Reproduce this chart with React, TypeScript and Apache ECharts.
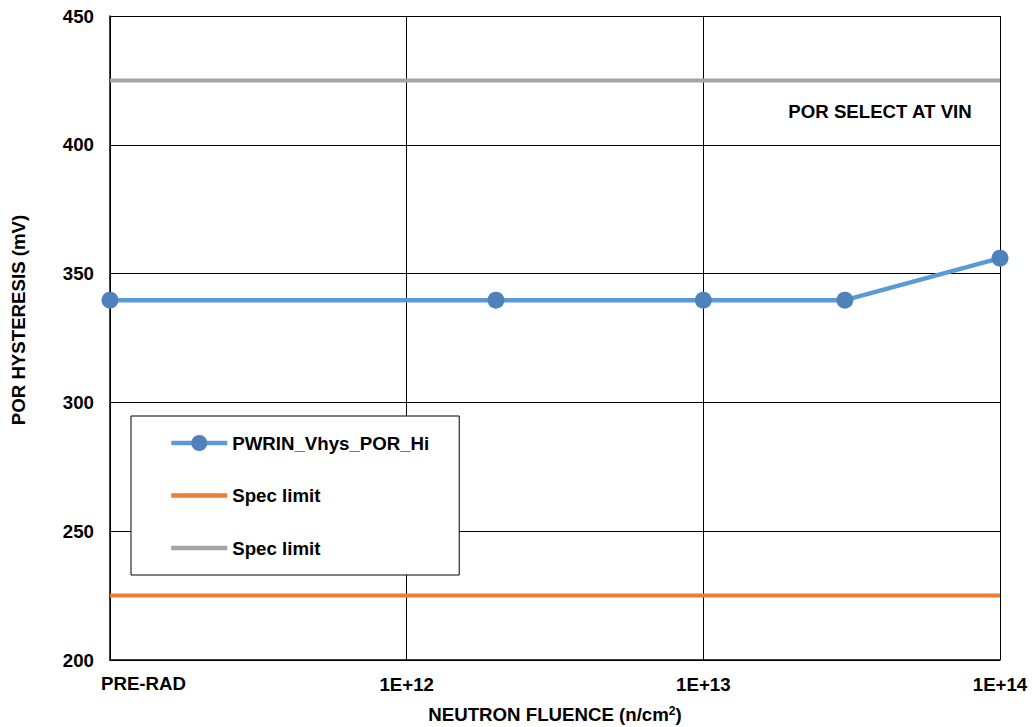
import React, { useEffect, useRef } from "react";
import * as echarts from "echarts";

const fluence = [1e11, 2e12, 1e13, 3e13, 1e14];
const hysteresis = [339.7, 339.7, 339.7, 339.7, 356];
const specLow = 225;
const specHigh = 425;
const xTicks = [1e11, 1e12, 1e13, 1e14];
const xTickLabels = ["PRE-RAD", "1E+12", "1E+13", "1E+14"];
const seriesNames = ["PWRIN_Vhys_POR_Hi", "Spec limit", "Spec limit"];

const FONT = "Liberation Sans, Arial, sans-serif";
const FS = 18.67;

export default function App() {
  const ref = useRef<HTMLDivElement>(null);
  useEffect(() => {
    if (!ref.current) return;
    const chart = echarts.init(ref.current, null, { renderer: "svg" });
    const xMin = xTicks[0];
    const xMax = xTicks[xTicks.length - 1];
    chart.setOption({
      animation: false,
      backgroundColor: "#ffffff",
      textStyle: { fontFamily: FONT },
      grid: { left: 110, right: 32, top: 16, bottom: 67, containLabel: false },
      xAxis: {
        type: "log",
        logBase: 10,
        min: xMin,
        max: xMax,
        axisLine: { show: true, lineStyle: { color: "#000", width: 1.5 } },
        axisTick: { show: false },
        splitLine: { show: true, lineStyle: { color: "#000", width: 1 } },
        axisLabel: {
          fontFamily: FONT,
          fontSize: FS,
          fontWeight: "bold",
          color: "#000",
          margin: 15,
          showMinLabel: true,
          showMaxLabel: true,
          formatter: (v: number) => {
            const i = xTicks.findIndex((t) => Math.abs(Math.log10(t) - Math.log10(v)) < 1e-6);
            if (i <= 0) return "";
            return xTickLabels[i];
          },
        },
      },
      yAxis: {
        type: "value",
        min: 200,
        max: 450,
        interval: 50,
        axisLine: { show: true, lineStyle: { color: "#000", width: 1.5 } },
        axisTick: { show: false },
        splitLine: { show: true, lineStyle: { color: "#000", width: 1 } },
        axisLabel: {
          fontFamily: FONT,
          fontSize: FS,
          fontWeight: "bold",
          color: "#000",
          margin: 16,
        },
      },
      legend: {
        orient: "vertical",
        left: 131,
        top: 416,
        padding: [17, 30, 17, 38],
        itemGap: 32.5,
        itemWidth: 56,
        itemHeight: 20,
        borderColor: "#000",
        borderWidth: 1,
        backgroundColor: "#fff",
        selectedMode: false,
        textStyle: { fontFamily: FONT, fontSize: FS, fontWeight: "bold", color: "#000", lineHeight: 20 },
        lineStyle: { width: 4.5 },
        data: [
          { name: seriesNames[0] },
          { name: seriesNames[1] + " ", itemStyle: { opacity: 0 } },
          { name: seriesNames[2], itemStyle: { opacity: 0 } },
        ],
        formatter: (n: string) => n.trim(),
      },
      graphic: [
        {
          type: "text",
          left: 101,
          top: 674,
          style: { text: xTickLabels[0], font: `bold ${FS}px ${FONT}`, fill: "#000" },
        },
        {
          type: "text",
          x: 880,
          y: 111,
          style: {
            text: "POR SELECT AT VIN",
            font: `bold ${FS}px ${FONT}`,
            fill: "#000",
            align: "center",
            verticalAlign: "middle",
          },
        },
        {
          type: "text",
          x: 18,
          y: 320,
          rotation: Math.PI / 2,
          style: {
            text: "POR HYSTERESIS (mV)",
            font: `bold ${FS}px ${FONT}`,
            fill: "#000",
            align: "center",
            verticalAlign: "middle",
          },
        },
        {
          type: "text",
          x: 555,
          y: 714,
          style: {
            text: "{a|NEUTRON FLUENCE (n/cm}{s|2}{a|)}",
            align: "center",
            verticalAlign: "middle",
            rich: {
              a: { font: `bold ${FS}px ${FONT}`, fill: "#000", color: "#000" },
              s: { font: `bold 12px ${FONT}`, fill: "#000", color: "#000", verticalAlign: "top", padding: [0, 0, 7, 0] },
            },
          },
        },
      ],
      series: [
        {
          name: seriesNames[0],
          type: "line",
          data: fluence.map((x, i) => [x, hysteresis[i]]),
          symbol: "circle",
          symbolSize: 17,
          showSymbol: true,
          lineStyle: { color: "#5B9BD5", width: 4.5 },
          itemStyle: { color: "#4F81BD" },
          z: 5,
        },
        {
          name: seriesNames[1] + " ",
          type: "line",
          data: [[xMin, specLow], [xMax, specLow]],
          showSymbol: false,
          symbol: "none",
          lineStyle: { color: "#ED7D31", width: 4 },
          itemStyle: { color: "#ED7D31" },
        },
        {
          name: seriesNames[2],
          type: "line",
          data: [[xMin, specHigh], [xMax, specHigh]],
          showSymbol: false,
          symbol: "none",
          lineStyle: { color: "#A5A5A5", width: 4 },
          itemStyle: { color: "#A5A5A5" },
        },
      ],
    });
    return () => chart.dispose();
  }, []);
  return (
    <div
      ref={ref}
      style={{ position: "absolute", left: 0, top: 0, width: 1032, height: 727 }}
    />
  );
}
